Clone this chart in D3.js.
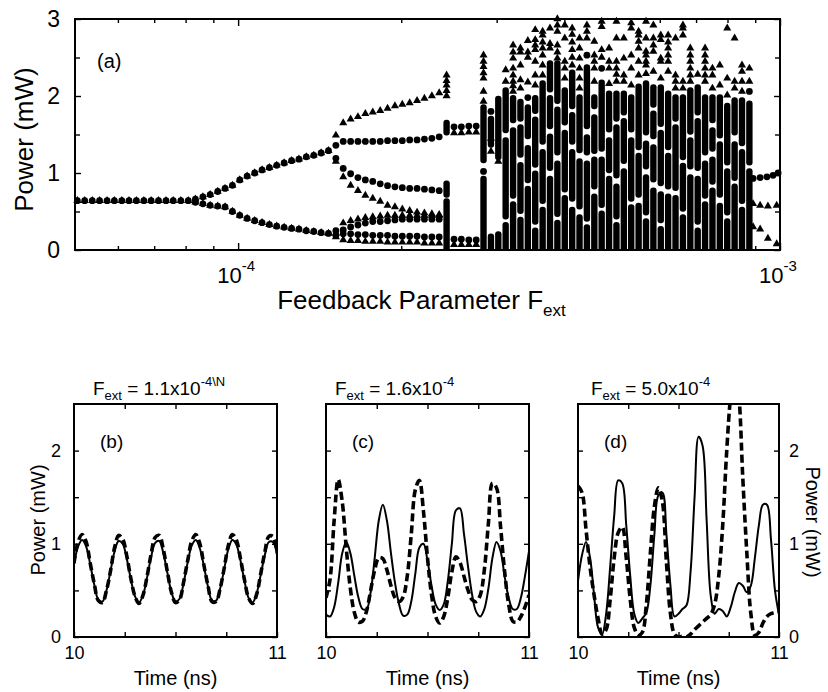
<!DOCTYPE html>
<html><head><meta charset="utf-8">
<script src="https://cdn.jsdelivr.net/npm/d3@7"></script>
<style>
body{margin:0;background:#fff}
text{font-family:"Liberation Sans",Arial,Helvetica,sans-serif;fill:#000}
</style>
</head><body>
<svg id="c" width="828" height="692"></svg>
<script>
// ---------------- DATA: panel (a) bifurcation diagram ----------------
// period-1 region (both series coincide)
const fP1 = [5.05e-5,5.21e-5,5.38e-5,5.55e-5,5.73e-5,5.91e-5,6.10e-5,6.29e-5,6.49e-5,6.70e-5,6.91e-5,7.13e-5,7.36e-5,7.59e-5,7.84e-5,8.09e-5];
const pP1 = [0.64,0.64,0.64,0.64,0.64,0.64,0.64,0.64,0.64,0.64,0.64,0.64,0.64,0.64,0.64,0.64];
// period-2 region (both series coincide)
const fP2 = [8.34e-5,8.61e-5,8.88e-5,9.17e-5,9.46e-5,9.76e-5,1.007e-4,1.039e-4,1.073e-4,1.107e-4,1.142e-4,1.178e-4,1.216e-4,1.255e-4,1.295e-4,1.336e-4,1.379e-4,1.423e-4,1.468e-4];
const p2Hi = [0.66,0.69,0.72,0.76,0.80,0.84,0.91,0.96,1.00,1.04,1.07,1.10,1.13,1.16,1.18,1.21,1.23,1.26,1.29];
const p2Lo = [0.62,0.60,0.58,0.57,0.56,0.50,0.45,0.41,0.38,0.355,0.33,0.31,0.295,0.28,0.27,0.25,0.24,0.225,0.215];
// transition column
const fJump = 1.515e-4;
const jumpC = [1.36,1.19,0.25,0.19];
const jumpT = [1.49,1.15,0.22,0.17];
// period-4 region
const fP4 = [1.563e-4,1.613e-4,1.664e-4,1.717e-4,1.772e-4,1.829e-4,1.887e-4,1.947e-4,2.009e-4,2.073e-4,2.139e-4,2.207e-4,2.278e-4,2.350e-4];
const p4C1 = [1.41,1.41,1.41,1.41,1.41,1.41,1.42,1.42,1.42,1.43,1.43,1.44,1.45,1.47];
const p4C2 = [1.06,0.99,0.94,0.91,0.89,0.86,0.835,0.82,0.81,0.80,0.80,0.79,0.78,0.77];
const p4C3 = [0.26,0.30,0.325,0.35,0.37,0.37,0.38,0.39,0.40,0.40,0.40,0.40,0.40,0.40];
const p4C4 = [0.21,0.21,0.20,0.20,0.19,0.19,0.19,0.18,0.18,0.18,0.18,0.17,0.17,0.17];
const p4T1 = [1.65,1.70,1.73,1.77,1.79,1.81,1.84,1.87,1.89,1.91,1.94,1.97,2.00,2.04];
const p4T2 = [0.95,0.84,0.77,0.71,0.67,0.63,0.58,0.56,0.53,0.51,0.49,0.48,0.47,0.46];
const p4T3 = [0.35,0.38,0.40,0.42,0.43,0.44,0.45,0.45,0.45,0.45,0.45,0.45,0.45,0.45];
const p4T4 = [0.13,0.12,0.12,0.11,0.11,0.11,0.10,0.10,0.10,0.10,0.10,0.09,0.09,0.09];
// short quasi-periodic window
const fQP = [2.503e-4,2.582e-4,2.665e-4,2.750e-4];
const qpC1 = [1.60,1.60,1.61,1.61];
const qpC2 = [0.14,0.14,0.13,0.13];
const qpT1 = [1.52,1.52,1.53,1.53];
const qpT2 = [0.07,0.07,0.07,0.07];
// dense (chaotic) columns: solid runs of stacked points [lo,hi], extra triangles, extra circles
const colF = [2.425e-4,2.837e-4,2.928e-4,3.021e-4,3.117e-4,3.217e-4,3.319e-4,3.425e-4,3.534e-4,3.647e-4,3.763e-4,3.883e-4,4.007e-4,4.135e-4,4.266e-4,4.402e-4,4.543e-4,4.687e-4,4.837e-4,4.991e-4,5.150e-4,5.314e-4,5.484e-4,5.659e-4,5.839e-4,6.025e-4,6.217e-4,6.415e-4,6.620e-4,6.831e-4,7.049e-4,7.273e-4,7.505e-4,7.744e-4,7.991e-4,8.246e-4,8.509e-4,8.780e-4];
const colRuns = [
 [[0,0.66],[0.69,0.89],[1.50,1.68]],
 [[0,0.95],[1.14,1.88]],
 [[0,0.2],[1.34,1.73]],
 [[0,0.23],[1.18,1.99]],
 [[0,0.35],[0.41,1.45],[1.53,2.1]],
 [[0,0.62],[0.68,1.58],[1.66,2.0]],
 [[0,0.42],[0.48,1.13],[1.21,1.62],[1.68,1.95]],
 [[0,0.82],[0.88,1.35],[1.45,1.88]],
 [[0,0.28],[0.34,1.02],[1.08,1.72],[1.78,2.0]],
 [[0,0.55],[0.61,1.30],[1.38,2.19]],
 [[0,0.95],[1.04,1.50],[1.58,2.0],[2.06,2.45]],
 [[0,0.38],[0.44,1.15],[1.24,1.85],[1.91,2.45]],
 [[0,0.70],[0.76,1.55],[1.63,2.10]],
 [[0,0.55],[0.64,1.30],[1.38,1.78],[1.84,2.33]],
 [[0,0.45],[0.54,1.18],[1.27,2.01]],
 [[0,0.32],[0.38,1.15],[1.24,1.49],[1.58,2.40]],
 [[0,0.72],[0.80,1.20],[1.26,1.75],[1.84,2.01]],
 [[0,0.50],[0.56,1.2],[1.29,2.2]],
 [[0,0.95],[1.01,1.45],[1.54,2.06]],
 [[0,0.35],[0.41,0.85],[0.94,1.62],[1.68,2.06]],
 [[0,1.05],[1.13,1.70],[1.76,2.06]],
 [[0,0.58],[0.64,1.45],[1.54,2.01]],
 [[0,0.60],[0.69,1.25],[1.31,2.15]],
 [[0,0.40],[0.46,0.97],[1.06,1.41],[1.50,2.19]],
 [[0,0.80],[0.89,1.36],[1.45,1.80],[1.86,2.14]],
 [[0,0.30],[0.36,0.75],[0.84,1.55],[1.61,2.14]],
 [[0,0.72],[0.80,1.25],[1.31,2.06]],
 [[0,0.70],[0.78,1.62],[1.68,2.01]],
 [[0,0.45],[0.51,1.12],[1.18,2.01]],
 [[0,0.97],[1.06,1.45],[1.51,2.10]],
 [[0,0.28],[0.34,0.95],[1.04,1.70],[1.76,2.14]],
 [[0,0.62],[0.68,1.15],[1.24,2.01]],
 [[0,0.80],[0.86,1.20],[1.29,1.58],[1.66,2.01]],
 [[0,0.60],[0.69,1.40],[1.46,2.01]],
 [[0,0.40],[0.46,1.05],[1.11,1.90]],
 [[0,0.85],[0.91,1.40],[1.50,1.97]],
 [[0,0.55],[0.61,1.30],[1.36,1.97]],
 [[0,1.05],[1.11,1.93]]
];
const colTri = [
 [2.0,2.07,2.14,2.2,2.27],
 [1.93,2.06,2.23,2.30,2.38,2.45,2.53],
 [1.28,1.45],
 [1.15],
 [2.19,2.34],
 [2.06,2.13,2.19,2.27,2.36,2.49,2.57,2.66],
 [2.10,2.21,2.40,2.57,2.62],
 [2.18,2.50,2.57,2.72],
 [2.14,2.27,2.45,2.60,2.66,2.73,2.86],
 [2.27,2.40,2.53,2.62,2.70,2.79,2.84],
 [2.62,2.68,2.88],
 [2.49,2.57,2.66,2.84,2.92,3.0],
 [2.23,2.36,2.45,2.75,2.92],
 [2.40,2.50,2.60,2.70,2.80,2.88],
 [2.10,2.23,2.36,2.49,2.62,2.75],
 [2.75,2.84,2.92],
 [2.19,2.36,2.45,2.53,2.71],
 [2.50,2.60,2.90,2.97],
 [2.16,2.36,2.45,2.62],
 [2.19,2.28,2.36,2.45,2.75,2.97],
 [2.19,2.27,2.49,2.75],
 [2.14,2.36,2.53,2.88,2.95],
 [2.27,2.45,2.62,2.71,2.79,2.84],
 [2.29,2.40,2.45,2.53,2.58,2.75,2.97],
 [2.32,2.58,2.66,2.75,2.92],
 [2.23,2.45,2.49,2.73,2.79],
 [2.32,2.45,2.53,2.62,2.70,2.79],
 [2.10,2.19,2.27,2.75],
 [2.10,2.19,2.79,2.88,2.92],
 [2.19,2.27,2.36,2.45,2.53,2.62],
 [2.28],
 [2.19,2.27,2.36,2.45,2.53,2.62],
 [2.10,2.27,2.36],
 [2.14,2.40],
 [2.01,2.23,2.88],
 [2.10,2.19,2.75],
 [2.06,2.19,2.32,2.40],
 [2.19,2.36]
];
const colDots = [[],[1.02],[1.80],[],[],[],[],[1.98],[],[],[],[],[],[],[],[2.53],[],[2.36],[],[],[],[],[],[],[],[],[],[],[],[],[],[],[],[],[],[],[],[2.06]];
// periodic window at the right end
const fRightC = [8.92e-4,9.19e-4,9.46e-4,9.71e-4,9.92e-4];
const rightC = [0.93,0.94,0.95,0.97,1.00];
const fRightT = [8.92e-4,9.19e-4,9.50e-4,9.86e-4];
const rightT1 = [0.60,0.58,0.57,0.58];
const rightT2 = [0.30,0.27,0.15,0.08];

// ---------------- DATA: panels (b)(c)(d) time traces ----------------
const tGrid = [10.00,10.02,10.04,10.06,10.08,10.10,10.12,10.14,10.16,10.18,10.20,10.22,10.24,10.26,10.28,10.30,10.32,10.34,10.36,10.38,10.40,10.42,10.44,10.46,10.48,10.50,10.52,10.54,10.56,10.58,10.60,10.62,10.64,10.66,10.68,10.70,10.72,10.74,10.76,10.78,10.80,10.82,10.84,10.86,10.88,10.90,10.92,10.94,10.96,10.98,11.00];
const bSolid = [0.78,0.97,1.04,0.97,0.78,0.56,0.40,0.38,0.50,0.71,0.92,1.03,1.00,0.84,0.62,0.44,0.37,0.45,0.64,0.86,1.01,1.03,0.90,0.69,0.48,0.38,0.41,0.58,0.80,0.98,1.04,0.95,0.76,0.54,0.39,0.39,0.52,0.73,0.94,1.04,0.99,0.82,0.60,0.42,0.37,0.47,0.67,0.88,1.02,1.02,0.88];
const bDashed = [0.79,1.02,1.10,1.02,0.79,0.57,0.39,0.37,0.50,0.71,0.96,1.09,1.05,0.87,0.63,0.44,0.36,0.45,0.65,0.89,1.07,1.09,0.94,0.70,0.48,0.37,0.40,0.59,0.82,1.03,1.10,1.00,0.77,0.55,0.38,0.38,0.52,0.74,0.98,1.10,1.04,0.84,0.61,0.42,0.36,0.46,0.68,0.91,1.08,1.08,0.91];
const cSolid = [0.24,0.22,0.32,0.58,0.90,1.02,0.90,0.65,0.42,0.30,0.30,0.48,0.85,1.25,1.42,1.25,0.90,0.58,0.35,0.23,0.24,0.38,0.68,0.96,1.00,0.82,0.55,0.35,0.29,0.35,0.60,1.00,1.36,1.38,1.10,0.75,0.45,0.27,0.22,0.30,0.52,0.85,1.02,0.92,0.65,0.42,0.30,0.30,0.42,0.65,0.92];
const cDashed = [0.42,0.62,1.25,1.69,1.45,0.95,0.52,0.26,0.16,0.17,0.28,0.50,0.72,0.85,0.84,0.72,0.55,0.42,0.38,0.43,0.65,1.10,1.58,1.68,1.35,0.85,0.45,0.22,0.15,0.22,0.42,0.70,0.86,0.80,0.65,0.50,0.40,0.38,0.45,0.72,1.22,1.65,1.60,1.18,0.70,0.35,0.17,0.16,0.22,0.32,0.45];
const dSolid = [0.60,0.88,1.02,0.85,0.45,0.10,0.03,0.25,0.75,1.30,1.68,1.65,1.20,0.65,0.25,0.15,0.20,0.26,0.55,1.10,1.52,1.55,1.10,0.55,0.22,0.25,0.30,0.34,0.70,1.50,2.15,2.05,1.25,0.45,0.25,0.30,0.28,0.22,0.32,0.48,0.58,0.55,0.48,0.55,0.85,1.20,1.42,1.42,1.05,0.50,0.24];
const dDashed = [1.62,1.55,1.15,0.75,0.45,0.20,0.03,0.08,0.40,0.85,1.12,1.18,0.85,0.40,0.10,0.02,0.05,0.35,0.90,1.40,1.60,1.45,0.80,0.25,0.03,0.00,0.01,0.00,0.03,0.08,0.12,0.16,0.20,0.24,0.35,0.65,1.20,2.00,2.60,2.90,2.60,1.70,0.90,0.25,0.02,0.05,0.15,0.22,0.25,0.26,0.27];
const panelNames = ["(b)","(c)","(d)"];
const panelF = ["1.1","1.6","5.0"];
const panelSup = ["-4\\N","-4","-4"];

// ---------------- DRAWING ----------------
const svg = d3.select("#c");
svg.append("rect").attr("width",828).attr("height",692).attr("fill","#fff");
const defs = svg.append("defs");

// ---- panel (a)
const A = {l:75, r:780, t:19, b:250};
const xA = d3.scaleLog().domain([5e-5,1e-3]).range([A.l,A.r]);
const yA = d3.scaleLinear().domain([0,3]).range([A.b,A.t]);
defs.append("clipPath").attr("id","clipA").append("rect")
  .attr("x",A.l).attr("y",A.t).attr("width",A.r-A.l).attr("height",A.b-A.t);

const circ = [], tris = [], runs = [];
fP1.forEach((f,i)=>{circ.push([f,pP1[i]]); tris.push([f,pP1[i]]);});
fP2.forEach((f,i)=>{[p2Hi[i],p2Lo[i]].forEach(v=>{circ.push([f,v]); tris.push([f,v]);});});
jumpC.forEach(v=>circ.push([fJump,v]));
jumpT.forEach(v=>tris.push([fJump,v]));
fP4.forEach((f,i)=>{
  [p4C1,p4C2,p4C3,p4C4].forEach(a=>circ.push([f,a[i]]));
  [p4T1,p4T2,p4T3,p4T4].forEach(a=>tris.push([f,a[i]]));
});
fQP.forEach((f,i)=>{
  circ.push([f,qpC1[i]]); circ.push([f,qpC2[i]]);
  tris.push([f,qpT1[i]]); tris.push([f,qpT2[i]]);
});
colF.forEach((f,i)=>{
  colRuns[i].forEach(r=>runs.push({f:f,lo:r[0],hi:r[1]}));
  colTri[i].forEach(v=>tris.push([f,v]));
  colDots[i].forEach(v=>circ.push([f,v]));
});
fRightC.forEach((f,i)=>circ.push([f,rightC[i]]));
fRightT.forEach((f,i)=>{tris.push([f,rightT1[i]]); tris.push([f,rightT2[i]]);});

const gA = svg.append("g");
gA.append("g").attr("clip-path","url(#clipA)")
  .selectAll("rect").data(runs).join("rect")
  .attr("x",d=>xA(d.f)-3.2).attr("width",6.4)
  .attr("y",d=>yA(d.hi)-1)
  .attr("height",d=>yA(d.lo)-yA(d.hi)+2+(d.lo===0?4:0))
  .attr("rx",3).attr("fill","#000");
const triPath = d3.symbol().type(d3.symbolTriangle).size(28)();
gA.append("g").selectAll("path").data(tris).join("path")
  .attr("d",triPath).attr("transform",d=>`translate(${xA(d[0])},${yA(d[1])})`).attr("fill","#000");
gA.append("g").selectAll("circle").data(circ).join("circle")
  .attr("cx",d=>xA(d[0])).attr("cy",d=>yA(d[1])).attr("r",3.4).attr("fill","#000");

function styleAxis(g){ g.select(".domain").remove(); g.selectAll("line").attr("stroke","#000").attr("stroke-width",1.4); }
const majorX = [1e-4,1e-3];
const minorX = [6e-5,7e-5,8e-5,9e-5,2e-4,3e-4,4e-4,5e-4,6e-4,7e-4,8e-4,9e-4];
gA.append("g").attr("transform",`translate(0,${A.b})`).call(d3.axisBottom(xA).tickValues(minorX).tickSize(-4).tickFormat("")).call(styleAxis);
gA.append("g").attr("transform",`translate(0,${A.b})`).call(d3.axisBottom(xA).tickValues(majorX).tickSize(-7).tickFormat("")).call(styleAxis);
gA.append("g").attr("transform",`translate(0,${A.t})`).call(d3.axisTop(xA).tickValues(minorX).tickSize(-4).tickFormat("")).call(styleAxis);
gA.append("g").attr("transform",`translate(0,${A.t})`).call(d3.axisTop(xA).tickValues(majorX).tickSize(-7).tickFormat("")).call(styleAxis);
const majY = [0,1,2,3], minY = [0.5,1.5,2.5];
gA.append("g").attr("transform",`translate(${A.l},0)`).call(d3.axisLeft(yA).tickValues(majY).tickSize(-6).tickPadding(15).tickFormat(d3.format("d")))
  .call(styleAxis).call(g=>g.selectAll("text").attr("font-size",23).attr("font-family","Liberation Sans, Arial, sans-serif"));
gA.append("g").attr("transform",`translate(${A.l},0)`).call(d3.axisLeft(yA).tickValues(minY).tickSize(-5).tickFormat("")).call(styleAxis);
gA.append("g").attr("transform",`translate(${A.r},0)`).call(d3.axisRight(yA).tickValues(majY).tickSize(-6).tickFormat("")).call(styleAxis);
gA.append("g").attr("transform",`translate(${A.r},0)`).call(d3.axisRight(yA).tickValues(minY).tickSize(-5).tickFormat("")).call(styleAxis);
gA.append("rect").attr("x",A.l).attr("y",A.t).attr("width",A.r-A.l).attr("height",A.b-A.t)
  .attr("fill","none").attr("stroke","#000").attr("stroke-width",2);
// decade labels
[[1e-4,"-4"],[1e-3,"-3"]].forEach(([v,e])=>{
  const t = gA.append("text").attr("x",xA(v)-2).attr("y",283).attr("font-size",22).attr("text-anchor","middle");
  t.append("tspan").text("10");
  t.append("tspan").attr("font-size",15).attr("dy",-12).text(e);
});
gA.append("text").attr("x",97).attr("y",68).attr("font-size",20).text("(a)");
gA.append("text").attr("transform",`translate(33,${(A.t+A.b)/2+5}) rotate(-90)`).attr("text-anchor","middle").attr("font-size",26).text("Power (mW)");
{
  const t = gA.append("text").attr("x",(A.l+A.r)/2-6).attr("y",309).attr("font-size",26).attr("text-anchor","middle");
  t.append("tspan").text("Feedback Parameter F");
  t.append("tspan").attr("font-size",17).attr("dy",7).text("ext");
}

// ---- panels (b)(c)(d)
const yP = d3.scaleLinear().domain([0,2.5]).range([637,404]);
const panels = [
  {l:74, r:277, solid:bSolid, dashed:bDashed, left:true, right:false, tx:93},
  {l:326, r:529, solid:cSolid, dashed:cDashed, left:false, right:false, tx:335},
  {l:578, r:779, solid:dSolid, dashed:dDashed, left:false, right:true, tx:591}
];
panels.forEach((p,i)=>{
  const x = d3.scaleLinear().domain([10,11]).range([p.l,p.r]);
  const g = svg.append("g");
  const cid = "clipP"+i;
  defs.append("clipPath").attr("id",cid).append("rect").attr("x",p.l).attr("y",404).attr("width",p.r-p.l).attr("height",233);
  const line = d3.line().x((d,k)=>x(tGrid[k])).y(d=>yP(d)).curve(d3.curveCatmullRom.alpha(0.5));
  const lg = g.append("g").attr("clip-path",`url(#${cid})`);
  lg.append("path").attr("d",line(p.solid)).attr("fill","none").attr("stroke","#000").attr("stroke-width",2);
  lg.append("path").attr("d",line(p.dashed)).attr("fill","none").attr("stroke","#000").attr("stroke-width",3.6).attr("stroke-dasharray","8,4");
  const fs = "Liberation Sans, Arial, sans-serif";
  g.append("g").attr("transform","translate(0,637)").call(d3.axisBottom(x).tickValues([10,10.25,10.5,10.75,11]).tickSize(-5).tickPadding(9).tickFormat(d=>(d===10||d===11)?d3.format("d")(d):""))
    .call(styleAxis).call(s=>s.selectAll("text").attr("font-size",18).attr("font-family",fs));
  g.append("g").attr("transform","translate(0,404)").call(d3.axisTop(x).tickValues([10.25,10.5,10.75]).tickSize(-5).tickFormat("")).call(styleAxis);
  g.append("g").attr("transform",`translate(${p.l},0)`).call(d3.axisLeft(yP).tickValues([0,0.5,1,1.5,2]).tickSize(-5).tickPadding(13).tickFormat(d=>(p.left && Number.isInteger(d))?d3.format("d")(d):""))
    .call(styleAxis).call(s=>s.selectAll("text").attr("font-size",18).attr("font-family",fs));
  g.append("g").attr("transform",`translate(${p.r},0)`).call(d3.axisRight(yP).tickValues([0,0.5,1,1.5,2]).tickSize(-5).tickPadding(10).tickFormat(d=>(p.right && Number.isInteger(d))?d3.format("d")(d):""))
    .call(styleAxis).call(s=>s.selectAll("text").attr("font-size",18).attr("font-family",fs));
  g.append("rect").attr("x",p.l).attr("y",404).attr("width",p.r-p.l).attr("height",233)
    .attr("fill","none").attr("stroke","#000").attr("stroke-width",2);
  g.append("text").attr("x",p.l+26).attr("y",448).attr("font-size",19).text(panelNames[i]);
  g.append("text").attr("x",(p.l+p.r)/2).attr("y",685).attr("font-size",20).attr("text-anchor","middle").text("Time (ns)");
  const t = g.append("text").attr("x",p.tx).attr("y",395).attr("font-size",19);
  t.append("tspan").text("F");
  t.append("tspan").attr("font-size",13).attr("dy",5).text("ext");
  t.append("tspan").attr("dy",-5).text(" = "+panelF[i]+"x10");
  t.append("tspan").attr("font-size",13).attr("dy",-9).text(panelSup[i]);
  if(p.left) g.append("text").attr("transform","translate(45,520) rotate(-90)").attr("text-anchor","middle").attr("font-size",20).text("Power (mW)");
  if(p.right) g.append("text").attr("transform","translate(806,522) rotate(90)").attr("text-anchor","middle").attr("font-size",20).text("Power (mW)");
});
</script>
</body></html>
